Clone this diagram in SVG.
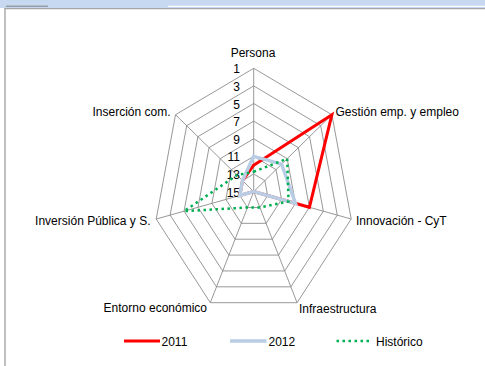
<svg xmlns="http://www.w3.org/2000/svg" width="485" height="366" viewBox="0 0 485 366">
<style>
text{font-family:"Liberation Sans",Arial,sans-serif;font-size:12px;fill:#000}
.ring{fill:none;stroke:#8c8c8c;stroke-width:0.9}
.spoke{stroke:#8c8c8c;stroke-width:0.9}
.s2011{fill:none;stroke:#FF0000;stroke-width:3;stroke-linejoin:miter}
.s2012{fill:none;stroke:#B9CDE5;stroke-width:3.5;stroke-linejoin:miter}
.shist{fill:none;stroke:#00B050;stroke-width:2.5;stroke-dasharray:2.5 3.5}
.tick{text-anchor:end}
</style>
<rect x="0" y="0" width="485" height="366" fill="#ffffff"/>
<rect x="0" y="0" width="485" height="8" fill="#C6D9F1"/>
<line x1="168" y1="6.3" x2="485" y2="6.3" stroke="#ffffff" stroke-width="1.3"/>
<line x1="6" y1="6.2" x2="48" y2="6.2" stroke="#808080" stroke-width="1"/>
<line x1="4.5" y1="8.6" x2="485" y2="8.6" stroke="#a6a6a6" stroke-width="1.4"/>
<line x1="5" y1="8" x2="5" y2="366" stroke="#a6a6a6" stroke-width="1.4"/>

<g id="grid">
<polygon class="ring" points="253.7,173.99 264.87,180.62 267.63,195.52 259.90,207.47 247.50,207.47 239.77,195.52 242.53,180.62"/>
<polygon class="ring" points="253.7,156.37 276.04,169.63 281.55,199.44 266.10,223.34 241.30,223.34 225.85,199.44 231.36,169.63"/>
<polygon class="ring" points="253.7,138.76 287.21,158.65 295.48,203.36 272.30,239.21 235.10,239.21 211.92,203.36 220.19,158.65"/>
<polygon class="ring" points="253.7,121.14 298.37,147.67 309.41,207.28 278.49,255.08 228.91,255.08 197.99,207.28 209.03,147.67"/>
<polygon class="ring" points="253.7,103.53 309.54,136.69 323.34,211.20 284.69,270.95 222.71,270.95 184.06,211.20 197.86,136.69"/>
<polygon class="ring" points="253.7,85.91 320.71,125.70 337.26,215.12 290.89,286.82 216.51,286.82 170.14,215.12 186.69,125.70"/>
<polygon class="ring" points="253.7,68.3 331.88,114.72 351.19,219.04 297.09,302.69 210.31,302.69 156.21,219.04 175.52,114.72"/>
<line class="spoke" x1="253.7" y1="191.6" x2="253.7" y2="68.3"/>
<line class="spoke" x1="253.7" y1="191.6" x2="331.88" y2="114.72"/>
<line class="spoke" x1="253.7" y1="191.6" x2="351.19" y2="219.04"/>
<line class="spoke" x1="253.7" y1="191.6" x2="297.09" y2="302.69"/>
<line class="spoke" x1="253.7" y1="191.6" x2="210.31" y2="302.69"/>
<line class="spoke" x1="253.7" y1="191.6" x2="156.21" y2="219.04"/>
<line class="spoke" x1="253.7" y1="191.6" x2="175.52" y2="114.72"/>
</g>

<g id="ticks">
<text class="tick" x="240" y="73.3">1</text>
<text class="tick" x="240" y="90.9">3</text>
<text class="tick" x="240" y="108.5">5</text>
<text class="tick" x="240" y="126.1">7</text>
<text class="tick" x="240" y="143.8">9</text>
<text class="tick" x="240" y="161.4">11</text>
<text class="tick" x="240" y="179">13</text>
<text class="tick" x="240" y="196.8">15</text>
</g>

<g id="axis-persona"><text x="253" y="56.5" text-anchor="middle">Persona</text></g>
<g id="axis-gestion"><text x="335.5" y="115.5">Gestión emp. y empleo</text></g>
<g id="axis-innovacion"><text x="356" y="224.5">Innovación - CyT</text></g>
<g id="axis-infraestructura"><text x="299" y="312.5">Infraestructura</text></g>
<g id="axis-entorno"><text x="207" y="312" text-anchor="end">Entorno económico</text></g>
<g id="axis-inversion"><text x="150.5" y="224.5" text-anchor="end">Inversión Pública y S.</text></g>
<g id="axis-insercion"><text x="170.5" y="116" text-anchor="end">Inserción com.</text></g>

<g id="series">
<polygon id="s2011" class="s2011" points="253.7,165.18 331.88,114.72 309.41,207.28 253.7,191.6 253.7,191.6 239.77,195.52 242.53,180.62"/>
<polygon id="s2012" class="s2012" points="253.7,156.37 281.62,164.14 295.48,203.36 253.7,191.6 253.7,191.6 239.77,195.52 242.53,180.62"/>
<polygon id="shist" class="shist" points="253.7,171.78 287.21,158.65 288.52,201.4 259.90,207.47 247.50,207.47 184.06,211.20 236.95,175.13"/>
</g>

<g id="legend">
<line class="s2011" x1="124" y1="341" x2="160" y2="341"/>
<text x="161.5" y="346">2011</text>
<line class="s2012" x1="230" y1="341" x2="266.5" y2="341"/>
<text x="268.5" y="346">2012</text>
<line class="shist" x1="336.5" y1="341" x2="371" y2="341"/>
<text x="376" y="346">Histórico</text>
</g>
</svg>
